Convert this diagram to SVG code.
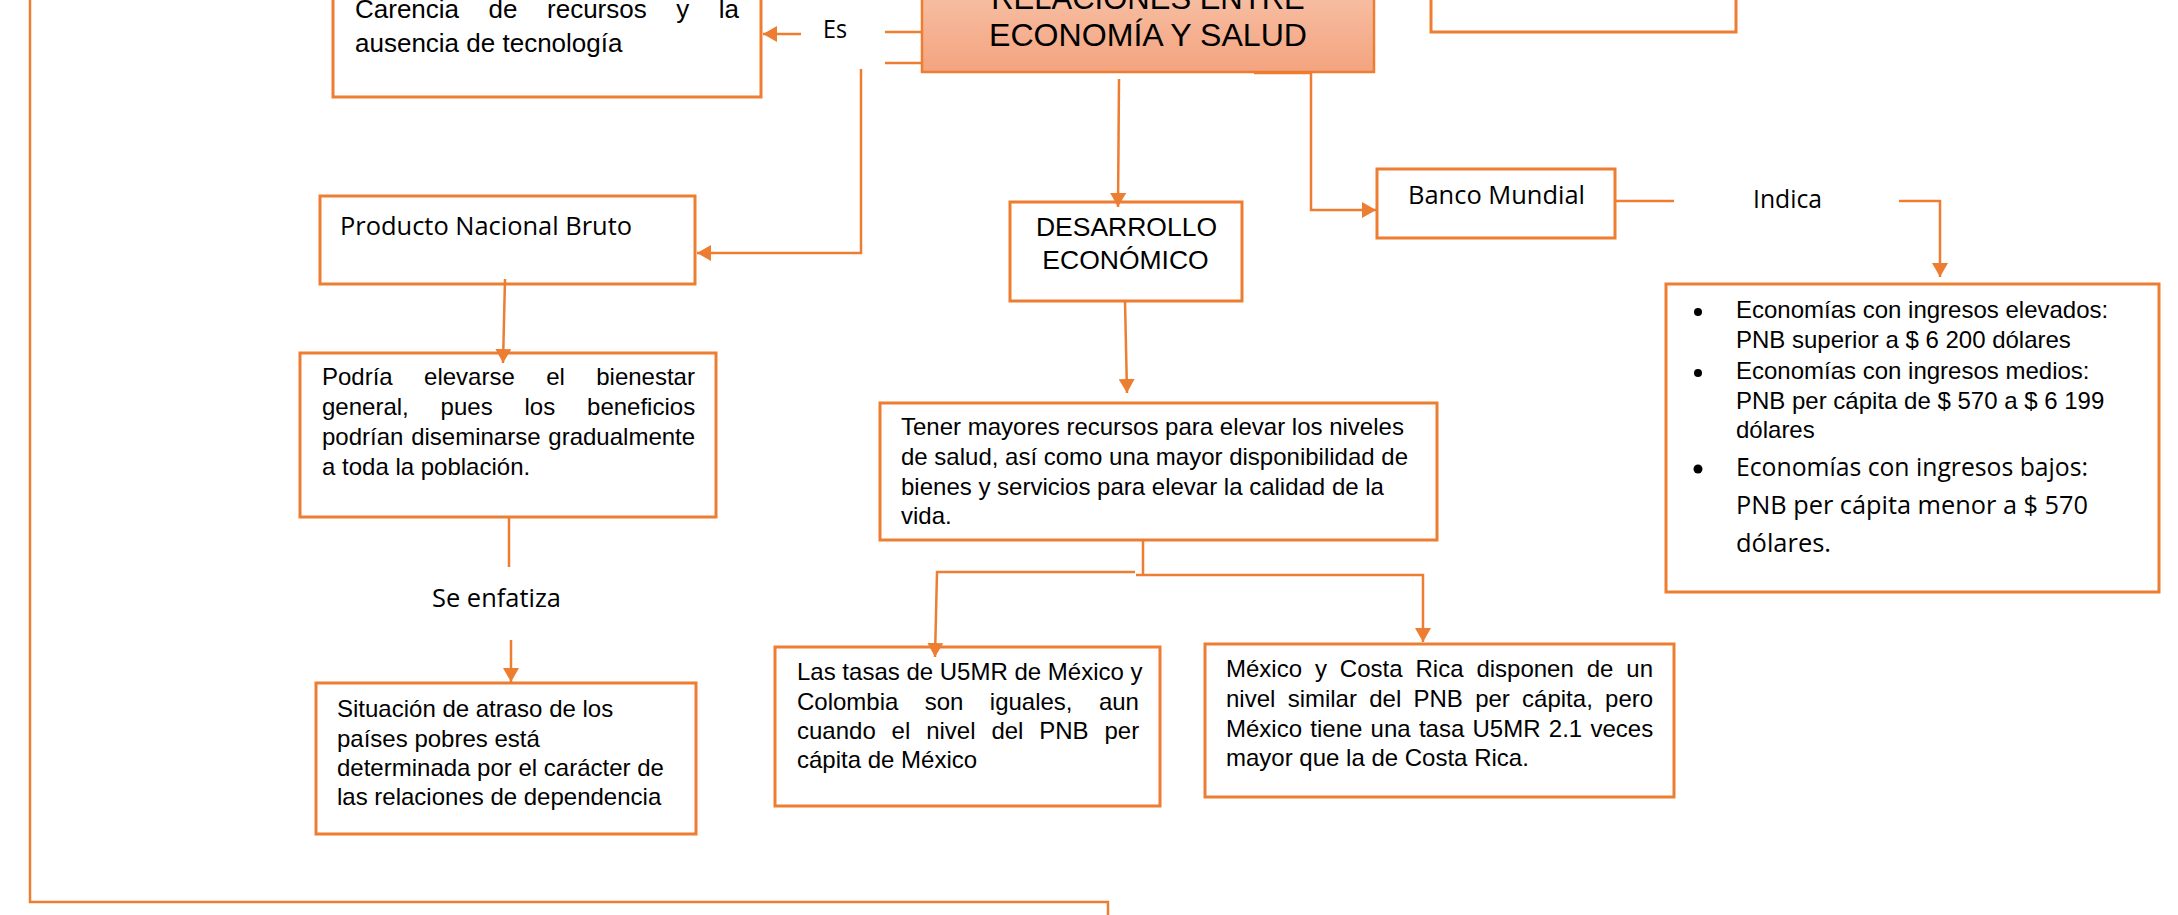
<svg xmlns="http://www.w3.org/2000/svg" width="2178" height="915" viewBox="0 0 2178 915">
<style>
.box{fill:#ffffff;stroke:#ED7D31;stroke-width:3}
.ln{fill:none;stroke:#ED7D31;stroke-width:2.5}
.ar{fill:none;stroke:#ED7D31;stroke-width:2.5;marker-end:url(#ah)}
.t{font-family:"Liberation Sans",Arial,sans-serif;font-size:24px;fill:#000}
.c{font-family:"Open Sans","Noto Sans",sans-serif;font-size:25.4px;fill:#000}
.dot{fill:#000}
</style>
<defs>
<linearGradient id="tg" x1="0" y1="0" x2="0" y2="1">
<stop offset="0" stop-color="#F7C0A5"/>
<stop offset="1" stop-color="#F4A37F"/>
</linearGradient>
<marker id="ah" markerUnits="userSpaceOnUse" markerWidth="16" markerHeight="16" refX="14" refY="8" orient="auto">
<path d="M0,0 L14,8 L0,16 Z" fill="#ED7D31"/>
</marker>
</defs>

<g id="n-titulo">
<rect x="922" y="-10" width="452" height="82" fill="url(#tg)" stroke="#ED7D31" stroke-width="2.5"/>
<text class="t" x="1148" y="9" text-anchor="middle" style="font-size:31px">RELACIONES ENTRE</text>
<text class="t" x="1148" y="46" text-anchor="middle" style="font-size:31px" textLength="318" lengthAdjust="spacingAndGlyphs">ECONOMÍA Y SALUD</text>
</g>

<g id="n-carencia">
<rect class="box" x="333" y="-10" width="428" height="107"/>
<text class="t" style="font-size:26px;word-spacing:22.3px" x="355" y="18">Carencia de recursos y la</text>
<text class="t" style="font-size:26px" x="355" y="52">ausencia de tecnología</text>
</g>

<g id="n-es">
<text class="c" x="823" y="38" textLength="24" lengthAdjust="spacingAndGlyphs">Es</text>
</g>

<g id="n-arriba-derecha">
<rect class="box" x="1431" y="-10" width="305" height="42"/>
</g>

<g id="n-pnb">
<rect class="box" x="320" y="196" width="375" height="88"/>
<text class="c" x="340" y="235" textLength="292" lengthAdjust="spacingAndGlyphs">Producto Nacional Bruto</text>
</g>

<g id="n-desarrollo">
<rect class="box" x="1010" y="202" width="232" height="99"/>
<text class="t" style="font-size:26.5px" x="1126.5" y="236" text-anchor="middle">DESARROLLO</text>
<text class="t" style="font-size:26.5px" x="1125.5" y="269" text-anchor="middle">ECONÓMICO</text>
</g>

<g id="n-banco">
<rect class="box" x="1377" y="169" width="238" height="69"/>
<text class="c" x="1408" y="204" textLength="177" lengthAdjust="spacingAndGlyphs">Banco Mundial</text>
</g>

<g id="n-indica">
<text class="c" x="1753" y="208" textLength="69" lengthAdjust="spacingAndGlyphs">Indica</text>
</g>

<g id="n-economias">
<rect class="box" x="1666" y="284" width="493" height="308"/>
<circle class="dot" cx="1698" cy="312" r="4"/>
<circle class="dot" cx="1698" cy="373" r="4"/>
<circle class="dot" cx="1698" cy="469" r="4.5"/>
<text class="t" x="1736" y="318">Economías con ingresos elevados:</text>
<text class="t" x="1736" y="348">PNB superior a $ 6 200 dólares</text>
<text class="t" x="1736" y="379">Economías con ingresos medios:</text>
<text class="t" x="1736" y="409">PNB per cápita de $ 570 a $ 6 199</text>
<text class="t" x="1736" y="438">dólares</text>
<text class="c" x="1736" y="476" textLength="352" lengthAdjust="spacingAndGlyphs">Economías con ingresos bajos:</text>
<text class="c" x="1736" y="514" textLength="352" lengthAdjust="spacingAndGlyphs">PNB per cápita menor a $ 570</text>
<text class="c" x="1736" y="552" textLength="95" lengthAdjust="spacingAndGlyphs">dólares.</text>
</g>

<g id="n-podria">
<rect class="box" x="300" y="353" width="416" height="164"/>
<text class="t" style="word-spacing:24.7px" x="322" y="385">Podría elevarse el bienestar</text>
<text class="t" style="word-spacing:25.2px" x="322" y="415">general, pues los beneficios</text>
<text class="t" style="word-spacing:1.1px" x="322" y="445">podrían diseminarse gradualmente</text>
<text class="t" x="322" y="475">a toda la población.</text>
</g>

<g id="n-se-enfatiza">
<text class="c" x="432" y="607" textLength="129" lengthAdjust="spacingAndGlyphs">Se enfatiza</text>
</g>

<g id="n-situacion">
<rect class="box" x="316" y="683" width="380" height="151"/>
<text class="t" x="337" y="717">Situación de atraso de los</text>
<text class="t" x="337" y="747">países pobres está</text>
<text class="t" x="337" y="776">determinada por el carácter de</text>
<text class="t" x="337" y="805">las relaciones de dependencia</text>
</g>

<g id="n-tener">
<rect class="box" x="880" y="403" width="557" height="137"/>
<text class="t" x="901" y="435">Tener mayores recursos para elevar los niveles</text>
<text class="t" x="901" y="465">de salud, así como una mayor disponibilidad de</text>
<text class="t" x="901" y="495">bienes y servicios para elevar la calidad de la</text>
<text class="t" x="901" y="524">vida.</text>
</g>

<g id="n-tasas">
<rect class="box" x="775" y="647" width="385" height="159"/>
<text class="t" x="797" y="680">Las tasas de U5MR de México y</text>
<text class="t" style="word-spacing:19.7px" x="797" y="710">Colombia son iguales, aun</text>
<text class="t" style="word-spacing:9.2px" x="797" y="739">cuando el nivel del PNB per</text>
<text class="t" x="797" y="768">cápita de México</text>
</g>

<g id="n-mexico">
<rect class="box" x="1205" y="644" width="469" height="153"/>
<text class="t" style="word-spacing:6.25px" x="1226" y="677">México y Costa Rica disponen de un</text>
<text class="t" style="word-spacing:5.6px" x="1226" y="707">nivel similar del PNB per cápita, pero</text>
<text class="t" style="word-spacing:1.6px" x="1226" y="737">México tiene una tasa U5MR 2.1 veces</text>
<text class="t" x="1226" y="766">mayor que la de Costa Rica.</text>
</g>

<g id="connectors">
<polyline class="ln" points="30,0 30,902 1108,902 1108,915"/>
<line class="ln" x1="885" y1="32" x2="922" y2="32"/>
<line class="ln" x1="885" y1="63" x2="922" y2="63"/>
<line class="ar" x1="801" y1="34" x2="763" y2="34"/>
<polyline class="ar" points="861,69 861,253 697,253"/>
<line class="ar" x1="1119" y1="79" x2="1118" y2="207"/>
<polyline class="ar" points="1254,73 1311,73 1311,210 1376,210"/>
<line class="ln" x1="1615" y1="201" x2="1674" y2="201"/>
<polyline class="ar" points="1899,201 1940,201 1940,277"/>
<line class="ar" x1="505" y1="279" x2="503" y2="363"/>
<line class="ln" x1="509" y1="517" x2="509" y2="567"/>
<line class="ar" x1="511" y1="640" x2="511" y2="682"/>
<line class="ar" x1="1125" y1="301" x2="1127" y2="393"/>
<line class="ln" x1="1143" y1="540" x2="1143" y2="574"/>
<polyline class="ar" points="1135,572 937,572 935,657"/>
<polyline class="ar" points="1136,575 1423,575 1423,642"/>
</g>
</svg>
